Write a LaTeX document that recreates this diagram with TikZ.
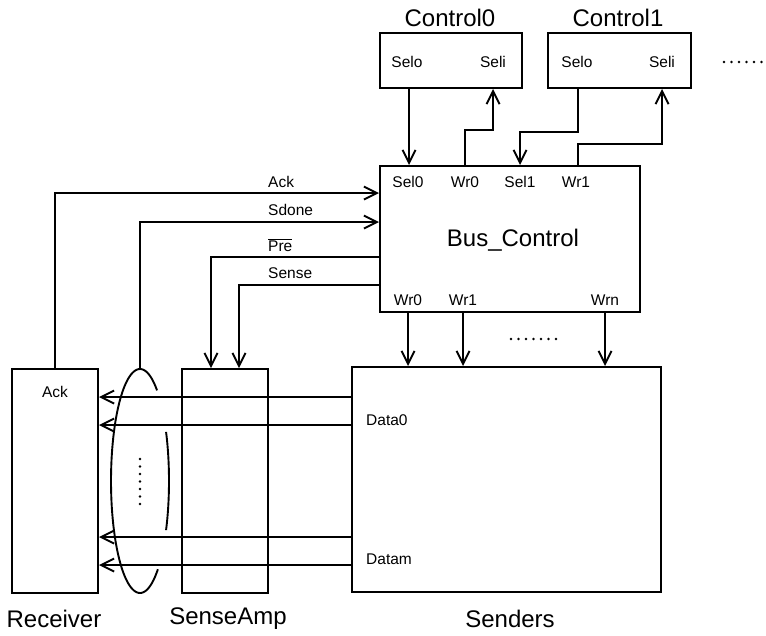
\documentclass[tikz,border=0pt]{standalone}
\usepackage{fontspec}
\setmainfont{Liberation Sans}
\usetikzlibrary{arrows.meta}
\begin{document}
\begin{tikzpicture}[x=1pt,y=-1pt,
  box/.style={draw,line width=2pt,inner sep=0pt,rectangle},
  arr/.style={line width=1.9pt,-{Straight Barb[length=13pt,width=13pt,line width=1.9pt]}},
  wire/.style={line width=1.9pt},
  small/.style={font=\fontsize{15.5}{17}\selectfont,inner sep=0pt},
  big/.style={font=\fontsize{24}{28}\selectfont,inner sep=0pt},
  dotline/.style={line width=2.8pt,line cap=round,dash pattern=on 0pt off 7.5pt}]
\useasboundingbox (0,0) rectangle (766,635);
% boxes
\node[box,minimum width=142pt,minimum height=55pt] (c0) at (451,60.5) {};
\node[box,minimum width=143pt,minimum height=55pt] (c1) at (619.5,60.5) {};
\node[box,minimum width=260pt,minimum height=146pt] (bus) at (510,239) {};
\node[box,minimum width=86pt,minimum height=224pt] (rec) at (55,481) {};
\node[box,minimum width=86pt,minimum height=224pt] (sa) at (225,481) {};
\node[box,minimum width=309pt,minimum height=225pt] (snd) at (506.5,479.5) {};
% titles
\node[big] (t0) at (450,18) {Control0};
\node[big] (t1) at (618,18) {Control1};
\node[big] (tb) at (513,240) {Bus\_Control};
\node[big] (tr) at (54,619) {Receiver};
\node[big] (ts) at (228,619) {SenseAmp};
\node[big] (tsn) at (510,619) {Senders};
% small labels
\node[small] (l1) at (407,62) {Selo};
\node[small] (l2) at (493,62) {Seli};
\node[small] (l3) at (577,62) {Selo};
\node[small] (l4) at (662,62) {Seli};
\node[small] (l5) at (408,182) {Sel0};
\node[small] (l6) at (465,182) {Wr0};
\node[small] (l7) at (520,182) {Sel1};
\node[small] (l8) at (576,182) {Wr1};
\node[small] (l9) at (408,300) {Wr0};
\node[small] (l10) at (463,300) {Wr1};
\node[small] (l11) at (605,300) {Wrn};
\node[small,anchor=west] (la) at (268,182) {Ack};
\node[small,anchor=west] (lsd) at (268,210) {Sdone};
\node[small,anchor=west] (lp) at (268,245) {$\overline{\mbox{Pre}}$};
\node[small,anchor=west] (lse) at (268,273) {Sense};
\node[small] (lack) at (55,392) {Ack};
\node[small,anchor=west] (ld0) at (366,420) {Data0};
\node[small,anchor=west] (ldm) at (366,559) {Datam};
% dots
\draw[dotline] (724,62) -- (764,62);
\draw[dotline] (511,339) -- (561,339);
\draw[dotline] (140,459) -- (140,507);
% x/y helper coordinates
\coordinate (xs0) at (409,0);
\coordinate (xw0) at (465,0);
\coordinate (xsi0) at (493,0);
\coordinate (xs1) at (520,0);
\coordinate (xso1) at (578,0);
\coordinate (xsi1) at (662,0);
\coordinate (yack) at (0,193);
\coordinate (ysd) at (0,222);
\coordinate (ypre) at (0,257);
\coordinate (ysen) at (0,285);
\coordinate (xpre) at (211,0);
\coordinate (xsen) at (239,0);
\coordinate (xb0) at (408,0);
\coordinate (xb1) at (463,0);
\coordinate (xbn) at (605,0);
\coordinate (yd0) at (0,397);
\coordinate (yd1) at (0,425);
\coordinate (yd2) at (0,537);
\coordinate (yd3) at (0,565);
\coordinate (ell) at (140,369);
% control connections
\draw[arr] (c0.south -| xs0) -- (bus.north -| xs0);
\draw[arr] (bus.north -| xw0) -- ++(0,-35) -| (c0.south -| xsi0);
\draw[arr] (c1.south -| xso1) -- ++(0,43) -| (bus.north -| xs1);
\draw[arr] (bus.north -| xso1) -- ++(0,-21) -| (c1.south -| xsi1);
% left signals
\draw[arr] (rec.north) |- (bus.west |- yack);
\draw[arr] (ell) |- (bus.west |- ysd);
\draw[arr] (bus.west |- ypre) -| (sa.north -| xpre);
\draw[arr] (bus.west |- ysen) -| (sa.north -| xsen);
% bus to senders
\draw[arr] (bus.south -| xb0) -- (snd.north -| xb0);
\draw[arr] (bus.south -| xb1) -- (snd.north -| xb1);
\draw[arr] (bus.south -| xbn) -- (snd.north -| xbn);
% data lines
\draw[arr] (snd.west |- yd0) -- (rec.east |- yd0);
\draw[arr] (snd.west |- yd1) -- (rec.east |- yd1);
\draw[arr] (snd.west |- yd2) -- (rec.east |- yd2);
\draw[arr] (snd.west |- yd3) -- (rec.east |- yd3);
% bundle ellipse
\draw[wire] plot[domain=90:270,samples=60] ({140+29*cos(\x)},{481-112*sin(\x)});
\draw[wire] plot[domain=54:90,samples=20] ({140+29*cos(\x)},{481-112*sin(\x)});
\draw[wire] plot[domain=-26:26,samples=30] ({140+29*cos(\x)},{481-112*sin(\x)});
\draw[wire] plot[domain=-90:-52,samples=20] ({140+29*cos(\x)},{481-112*sin(\x)});
\end{tikzpicture}
\end{document}
